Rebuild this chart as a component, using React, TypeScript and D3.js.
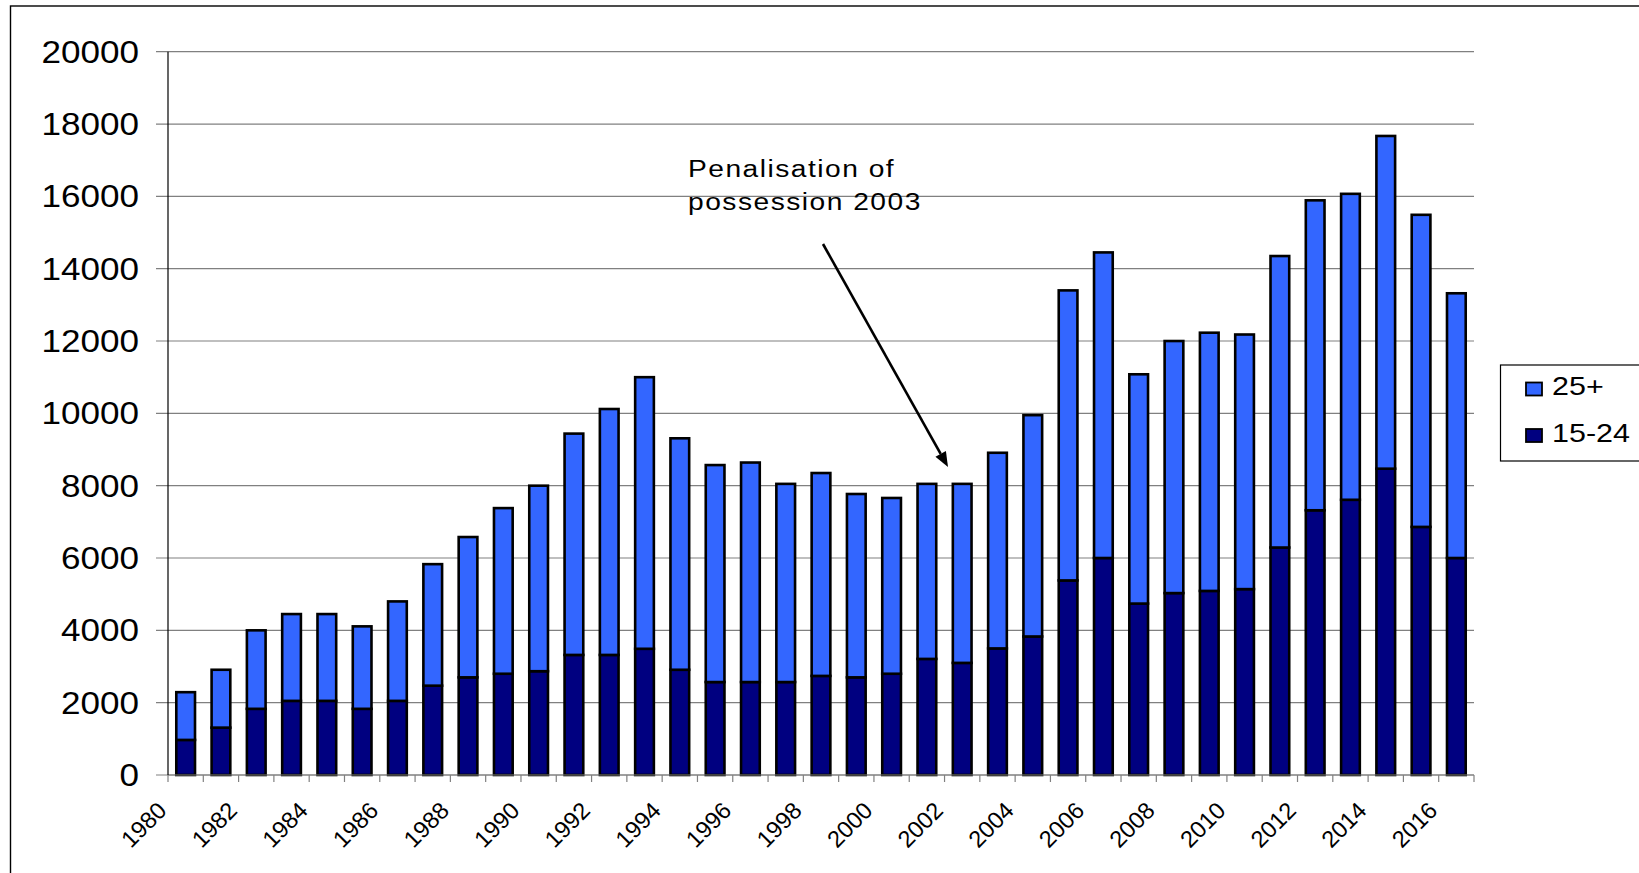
import { useEffect, useRef } from "react";
import * as d3 from "d3";

const years = [
  "1980", "1981", "1982", "1983", "1984", "1985", "1986", "1987", "1988", "1989",
  "1990", "1991", "1992", "1993", "1994", "1995", "1996", "1997", "1998", "1999",
  "2000", "2001", "2002", "2003", "2004", "2005", "2006", "2007", "2008", "2009",
  "2010", "2011", "2012", "2013", "2014", "2015", "2016",
];

// 15-24 age group (bottom segment)
const youth = [
  970, 1310, 1830, 2050, 2050, 1830, 2050, 2470, 2700, 2800,
  2870, 3320, 3320, 3490, 2910, 2570, 2570, 2570, 2740, 2700,
  2800, 3210, 3100, 3500, 3830, 5380, 6000, 4740, 5030, 5090,
  5140, 6290, 7320, 7610, 8470, 6860, 6000,
];

// 25+ age group (top segment)
const adults = [
  1320, 1600, 2170, 2400, 2400, 2280, 2750, 3360, 3880, 4580,
  5130, 6120, 6800, 7510, 6400, 6000, 6070, 5480, 5610, 5070,
  4860, 4840, 4950, 5410, 6120, 8020, 8450, 6340, 6970, 7140,
  7040, 8060, 8570, 8460, 9200, 8630, 7320,
];

const yTicks = [0, 2000, 4000, 6000, 8000, 10000, 12000, 14000, 16000, 18000, 20000];
const labelYears = years.filter((y) => +y % 2 === 0);

const seriesKeys = ["youth", "adults"];
const seriesColors: Record<string, string> = { youth: "#000080", adults: "#3366FF" };
const legendItems = [
  { key: "adults", label: "25+" },
  { key: "youth", label: "15-24" },
];

const FONT = "'Liberation Sans', Arial, sans-serif";

export default function App() {
  const svgRef = useRef<SVGSVGElement>(null);

  useEffect(() => {
    const svg = d3.select(svgRef.current);
    svg.selectAll("*").remove();

    const left = 168, right = 1474, top = 51.7, bottom = 775;

    const x = d3.scaleBand<string>()
      .domain(years)
      .range([left, right])
      .paddingInner(0.47)
      .paddingOuter(0.235);
    const y = d3.scaleLinear().domain([0, 20000]).range([bottom, top]);
    const gap = (x.step() - x.bandwidth()) / 2;

    // outer chart border
    svg.append("rect")
      .attr("x", 10.5).attr("y", 6)
      .attr("width", 2000).attr("height", 2000)
      .attr("fill", "none").attr("stroke", "#000").attr("stroke-width", 1.4);

    // gridlines
    svg.append("g")
      .selectAll("line")
      .data(yTicks)
      .join("line")
      .attr("x1", left - 12).attr("x2", right)
      .attr("y1", (d) => y(d)).attr("y2", (d) => y(d))
      .attr("stroke", "#808080").attr("stroke-width", 1.2);

    // y labels
    svg.append("g")
      .selectAll("text")
      .data(yTicks)
      .join("text")
      .attr("transform", (d) => `translate(139,${y(d)}) scale(1.15,1)`)
      .attr("dy", "0.36em")
      .attr("text-anchor", "end")
      .attr("font-family", FONT)
      .attr("font-size", 30.5)
      .attr("fill", "#000")
      .text((d) => d);

    // x axis ticks
    svg.append("g")
      .selectAll("line")
      .data([...years, "end"])
      .join("line")
      .attr("x1", (d, i) => left + i * x.step())
      .attr("x2", (d, i) => left + i * x.step())
      .attr("y1", bottom).attr("y2", bottom + 7)
      .attr("stroke", "#808080").attr("stroke-width", 1.2);

    // x labels
    svg.append("g")
      .selectAll("text")
      .data(labelYears)
      .join("text")
      .attr("transform", (d) => `translate(${(x(d) as number) - gap},812) rotate(-45)`)
      .attr("text-anchor", "end")
      .attr("font-family", FONT)
      .attr("font-size", 23.5)
      .attr("fill", "#000")
      .text((d) => d);

    // stacked bars
    const rows = years.map((yr, i) => ({ year: yr, youth: youth[i], adults: adults[i] }));
    const stacked = d3.stack<any>().keys(seriesKeys)(rows);

    svg.append("g")
      .selectAll("g")
      .data(stacked)
      .join("g")
      .attr("fill", (s) => seriesColors[s.key])
      .selectAll("rect")
      .data((s) => s)
      .join("rect")
      .attr("x", (d: any) => x(d.data.year) as number)
      .attr("width", x.bandwidth())
      .attr("y", (d) => y(d[1]))
      .attr("height", (d) => y(d[0]) - y(d[1]))
      .attr("stroke", "#000")
      .attr("stroke-width", 2.6);

    // axes lines
    svg.append("line")
      .attr("x1", left).attr("x2", right)
      .attr("y1", bottom).attr("y2", bottom)
      .attr("stroke", "#808080").attr("stroke-width", 1.2);
    svg.append("line")
      .attr("x1", left).attr("x2", left)
      .attr("y1", top).attr("y2", bottom)
      .attr("stroke", "#000").attr("stroke-width", 1.2);

    // annotation
    const note = svg.append("text")
      .attr("transform", "translate(688,176.5) scale(1.15,1)")
      .attr("font-family", FONT)
      .attr("font-size", 24.5)
      .attr("letter-spacing", 1.3)
      .attr("fill", "#000");
    note.append("tspan").attr("x", 0).text("Penalisation of");
    note.append("tspan").attr("x", 0).attr("dy", 33.5).text("possession 2003");

    const ax0 = 823, ay0 = 244, ax1 = 948, ay1 = 467;
    const ang = Math.atan2(ay1 - ay0, ax1 - ax0);
    const headLen = 15, headW = 6;
    const bx = ax1 - headLen * Math.cos(ang), by = ay1 - headLen * Math.sin(ang);
    svg.append("line")
      .attr("x1", ax0).attr("y1", ay0).attr("x2", bx).attr("y2", by)
      .attr("stroke", "#000").attr("stroke-width", 2.6);
    svg.append("path")
      .attr("d", `M${ax1},${ay1}L${bx + headW * Math.sin(ang)},${by - headW * Math.cos(ang)}L${bx - headW * Math.sin(ang)},${by + headW * Math.cos(ang)}Z`)
      .attr("fill", "#000");

    // legend
    const lg = svg.append("g");
    lg.append("rect")
      .attr("x", 1500.5).attr("y", 365)
      .attr("width", 200).attr("height", 96)
      .attr("fill", "#fff").attr("stroke", "#000").attr("stroke-width", 1.2);
    const li = lg.selectAll("g.item")
      .data(legendItems)
      .join("g")
      .attr("class", "item")
      .attr("transform", (d, i) => `translate(0,${i * 46.5})`);
    li.append("rect")
      .attr("x", 1526).attr("y", 382.5)
      .attr("width", 16).attr("height", 13)
      .attr("fill", (d) => seriesColors[d.key])
      .attr("stroke", "#000").attr("stroke-width", 1.8);
    li.append("text")
      .attr("transform", "translate(1552,395) scale(1.15,1)")
      .attr("font-family", FONT)
      .attr("font-size", 26.5)
      .attr("fill", "#000")
      .text((d) => d.label);
  }, []);

  return (
    <svg
      ref={svgRef}
      width={1639}
      height={873}
      style={{ position: "fixed", left: 0, top: 0, background: "#fff" }}
    />
  );
}
